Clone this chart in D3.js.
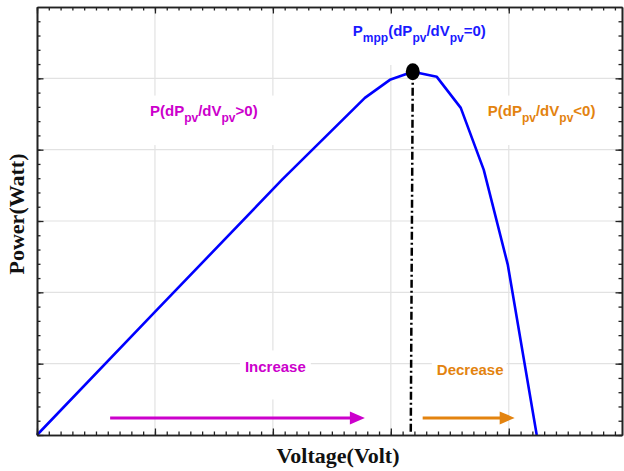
<!DOCTYPE html>
<html lang="en">
<head>
<meta charset="utf-8">
<title>P-V curve with MPP</title>
<script src="https://d3js.org/d3.v7.min.js"></script>
<style>
  body { margin: 0; background: #fff; }
  svg { display: block; }
  .lbl { font-family: 'Liberation Sans', Arial, sans-serif; font-weight: bold; }
  .title { font-family: 'Liberation Serif', 'Times New Roman', serif; font-weight: bold; font-size: 22px; fill: #111; }
</style>
</head>
<body>
<div id="chart"></div>
<script>

/* Data */
/* ==== */

// P-V curve (arbitrary units)
var voltage = [0, 1.0, 2.076, 2.78, 2.992, 3.186, 3.39, 3.593, 3.788, 3.992, 4.237];
var power   = [0, 1.725, 3.576, 4.726, 4.979, 5.091, 5.021, 4.586, 3.717, 2.384, 0];

// maximum power point
var mpp = { v: 3.186, p: 5.091 };

// direction arrows [from, to] along voltage, at a fixed power level
var arrowIncrease = [0.62, 2.78];
var arrowDecrease = [3.27, 4.05];
var arrowLevel = 0.24;

// labels: position in data units, and text segments [text, subscript?]
var labels = [
  { v: 2.678, p: 5.6,   color: '#1a1aff', pad: [6, 6, 7, 20],
    parts: [['P', 0], ['mpp', 1], ['(dP', 0], ['pv', 1], ['/dV', 0], ['pv', 1], ['=0)', 0]] },
  { v: 0.958, p: 4.478, color: '#cc00cc', pad: [6, 18, 6, 20],
    parts: [['P(dP', 0], ['pv', 1], ['/dV', 0], ['pv', 1], ['>0)', 0]] },
  { v: 3.822, p: 4.478, color: '#e3830f', pad: [6, 6, 6, 20],
    parts: [['P(dP', 0], ['pv', 1], ['/dV', 0], ['pv', 1], ['<0)', 0]] },
  { v: 1.763, p: 0.877, color: '#cc00cc', pad: [5, 5, 8, 24],
    parts: [['Increase', 0]] },
  { v: 3.39,  p: 0.842, color: '#e3830f', pad: [5, 3, 8, 24],
    parts: [['Decrease', 0]] }
];

var xDomain = [0, 4.96],
    yDomain = [0, 6];


/* Layout */
/* ====== */

var width = 624,
    height = 471,
    margin = { top: 7, right: 2, bottom: 36, left: 37 };

var x = d3.scaleLinear().domain(xDomain).range([margin.left, width - margin.right]);
var y = d3.scaleLinear().domain(yDomain).range([height - margin.bottom, margin.top]);

var svg = d3.select('#chart').append('svg')
    .attr('width', width)
    .attr('height', height);

var xMajor = d3.range(1, 5),
    yMajor = d3.range(1, 6),
    xMinor = d3.range(0, 50).map(function(d) { return d / 10; }),
    yMinor = d3.range(0, 30).map(function(d) { return d / 5; });


/* Grid */
/* ---- */

svg.append('g').selectAll('line').data(xMajor).join('line')
    .attr('x1', d => x(d)).attr('x2', d => x(d))
    .attr('y1', y(yDomain[0])).attr('y2', y(yDomain[1]))
    .attr('stroke', '#e2e2e2').attr('stroke-width', 1.2);

svg.append('g').selectAll('line').data(yMajor).join('line')
    .attr('y1', d => y(d)).attr('y2', d => y(d))
    .attr('x1', x(xDomain[0])).attr('x2', x(xDomain[1]))
    .attr('stroke', '#e2e2e2').attr('stroke-width', 1.2);


/* Label backgrounds + labels */
/* -------------------------- */

labels.forEach(function(l) {
  var g = svg.append('g');
  var bg = g.append('rect').attr('fill', '#fff');
  var t = g.append('text')
      .attr('class', 'lbl')
      .attr('x', x(l.v))
      .attr('y', y(l.p))
      .attr('fill', l.color)
      .style('font-size', '15px');

  var down = false;
  l.parts.forEach(function(pt) {
    var s = t.append('tspan').text(pt[0]);
    if (pt[1]) {
      s.style('font-size', '12px').attr('dy', down ? 0 : 6.5);
      down = true;
    } else {
      s.attr('dy', down ? -6.5 : 0);
      down = false;
    }
  });

  var b = t.node().getBBox();
  bg.attr('x', b.x - l.pad[0])
    .attr('y', Math.max(b.y - l.pad[2], margin.top))
    .attr('width', b.width + l.pad[0] + l.pad[1])
    .attr('height', b.y + b.height + l.pad[3] - Math.max(b.y - l.pad[2], margin.top));
});


/* Curve */
/* ----- */

var pts = voltage.map(function(v, i) { return [v, power[i]]; });

svg.append('path')
    .datum(pts)
    .attr('fill', 'none')
    .attr('stroke', '#0000ff')
    .attr('stroke-width', 2.6)
    .attr('stroke-linejoin', 'round')
    .attr('d', d3.line().x(d => x(d[0])).y(d => y(d[1])));

// drop line from MPP
svg.append('line')
    .attr('x1', x(mpp.v)).attr('x2', x(mpp.v) - 2)
    .attr('y1', y(mpp.p)).attr('y2', y(0.04))
    .attr('stroke', '#000')
    .attr('stroke-width', 2.5)
    .attr('stroke-dasharray', '8,3,2,3');

svg.append('ellipse')
    .attr('cx', x(mpp.v)).attr('cy', y(mpp.p))
    .attr('rx', 7).attr('ry', 8.5)
    .attr('fill', '#000');


/* Arrows */
/* ------ */

function arrow(span, color) {
  var x0 = x(span[0]), x1 = x(span[1]), yy = y(arrowLevel);
  svg.append('line')
      .attr('x1', x0).attr('x2', x1 - 12)
      .attr('y1', yy).attr('y2', yy)
      .attr('stroke', color).attr('stroke-width', 3);
  svg.append('path')
      .attr('d', 'M' + x1 + ',' + yy + 'L' + (x1 - 15) + ',' + (yy - 6.5) + 'L' + (x1 - 15) + ',' + (yy + 6.5) + 'Z')
      .attr('fill', color);
}

arrow(arrowIncrease, '#cc00cc');
arrow(arrowDecrease, '#e3830f');


/* Axes (frame with inward ticks, no labels) */
/* ----------------------------------------- */

var frame = [
  { ax: d3.axisTop,    sc: 'x', pos: 'translate(0,' + y(0) + ')' },
  { ax: d3.axisBottom, sc: 'x', pos: 'translate(0,' + y(yDomain[1]) + ')' },
  { ax: d3.axisRight,  sc: 'y', pos: 'translate(' + x(0) + ',0)' },
  { ax: d3.axisLeft,   sc: 'y', pos: 'translate(' + x(xDomain[1]) + ',0)' }
];

frame.forEach(function(f) {
  var minor = f.sc === 'x' ? xMinor : yMinor,
      major = f.sc === 'x' ? xMajor.concat([0]) : yMajor.concat([0]);
  var g1 = svg.append('g').attr('transform', f.pos)
      .call(f.ax(f.sc === 'x' ? x : y).tickValues(minor).tickSize(3.5).tickFormat('').tickSizeOuter(0));
  var g2 = svg.append('g').attr('transform', f.pos)
      .call(f.ax(f.sc === 'x' ? x : y).tickValues(major).tickSize(6.5).tickFormat('').tickSizeOuter(0));
  [g1, g2].forEach(function(g) {
    g.selectAll('line').attr('stroke', '#222').attr('stroke-width', 1.3);
    g.select('.domain').attr('stroke', '#222').attr('stroke-width', 1.6);
  });
});


/* Axis titles */
/* ----------- */

svg.append('text')
    .attr('class', 'title')
    .attr('x', 338)
    .attr('y', 463)
    .attr('text-anchor', 'middle')
    .text('Voltage(Volt)');

svg.append('text')
    .attr('class', 'title')
    .attr('transform', 'translate(24,' + 214 + ') rotate(-90)')
    .attr('text-anchor', 'middle')
    .text('Power(Watt)');

</script>
</body>
</html>
